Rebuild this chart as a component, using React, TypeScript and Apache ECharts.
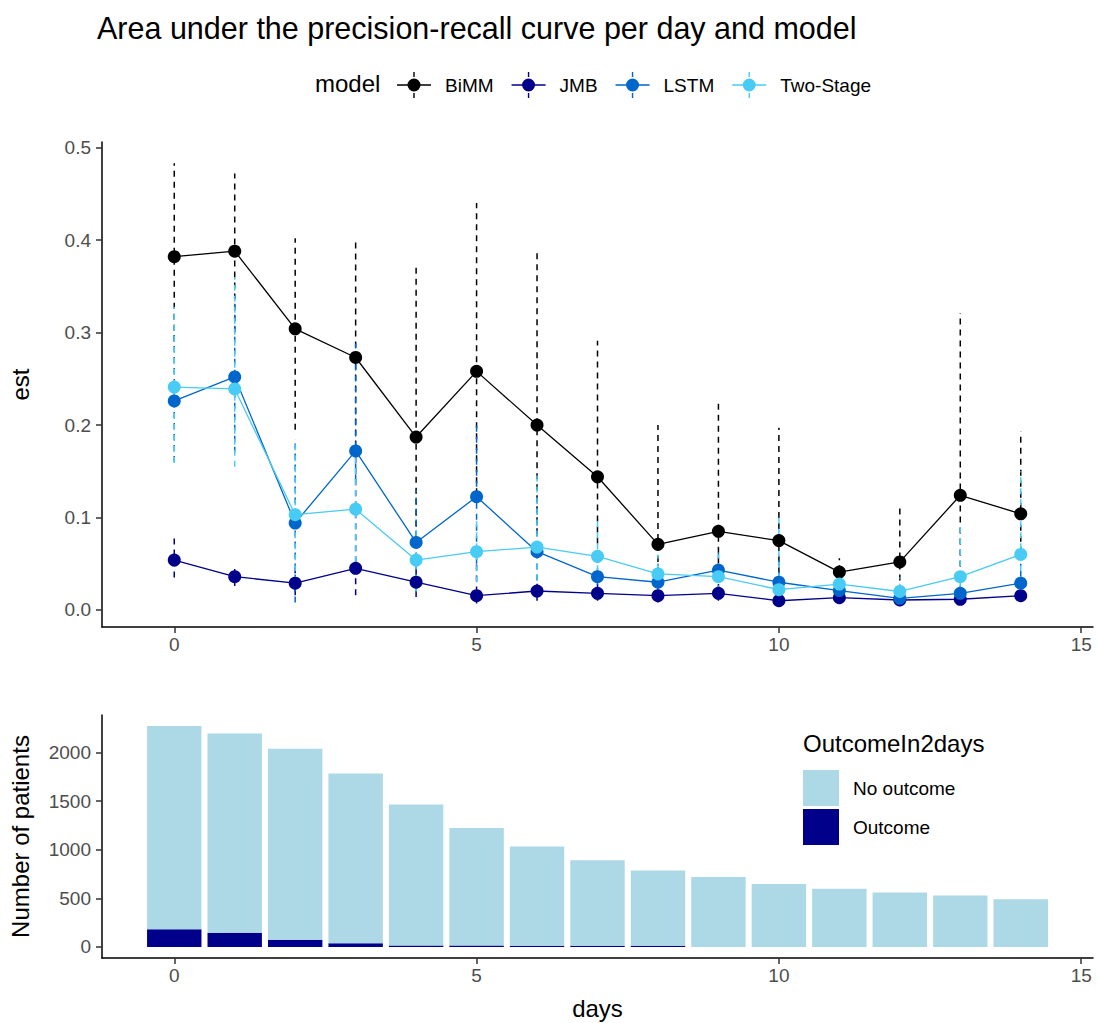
import React, { useEffect, useRef } from "react";
import * as echarts from "echarts";

const FONT = '"Liberation Sans", Arial, sans-serif';

const days = [0, 1, 2, 3, 4, 5, 6, 7, 8, 9, 10, 11, 12, 13, 14];
const models = ["BiMM", "JMB", "LSTM", "Two-Stage"];
const modelColors = ["#000000", "#00008B", "#0066CC", "#48CCF5"];

const bimmEst = [0.382, 0.388, 0.304, 0.273, 0.187, 0.258, 0.2, 0.144, 0.071, 0.085, 0.075, 0.041, 0.052, 0.124, 0.104];
const bimmUpper = [0.483, 0.472, 0.402, 0.398, 0.374, 0.44, 0.388, 0.291, 0.2, 0.223, 0.197, 0.056, 0.115, 0.321, 0.193];
const bimmLower = [0.29, 0.3, 0.195, 0.165, 0.078, 0.125, 0.082, 0.072, 0.04, 0.05, 0.04, 0.03, 0.02, 0.035, 0.062];

const jmbEst = [0.054, 0.036, 0.029, 0.045, 0.03, 0.0155, 0.0205, 0.018, 0.0155, 0.018, 0.01, 0.0133, 0.0108, 0.0116, 0.0155];
const jmbUpper = [0.08, 0.047, 0.045, 0.17, 0.05, 0.055, 0.035, 0.028, 0.025, 0.028, 0.018, 0.02, 0.017, 0.018, 0.022];
const jmbLower = [0.035, 0.026, 0.016, 0.016, 0.014, 0.007, 0.01, 0.01, 0.008, 0.01, 0.006, 0.008, 0.007, 0.007, 0.01];

const lstmEst = [0.226, 0.252, 0.094, 0.172, 0.073, 0.1225, 0.063, 0.036, 0.03, 0.043, 0.03, 0.021, 0.0126, 0.018, 0.029];
const lstmUpper = [0.3, 0.34, 0.18, 0.288, 0.13, 0.2, 0.12, 0.06, 0.05, 0.068, 0.06, 0.035, 0.025, 0.03, 0.05];
const lstmLower = [0.16, 0.17, 0.008, 0.14, 0.02, 0.05, 0.02, 0.015, 0.012, 0.02, 0.012, 0.01, 0.006, 0.008, 0.012];

const twoEst = [0.241, 0.239, 0.103, 0.109, 0.054, 0.063, 0.068, 0.058, 0.039, 0.036, 0.022, 0.028, 0.02, 0.036, 0.06];
const twoUpper = [0.328, 0.36, 0.185, 0.18, 0.09, 0.1, 0.15, 0.1, 0.06, 0.06, 0.105, 0.045, 0.035, 0.09, 0.15];
const twoLower = [0.159, 0.155, 0.03, 0.04, 0.02, 0.03, 0.02, 0.03, 0.02, 0.02, 0.01, 0.015, 0.01, 0.012, 0.03];

const noOutcomeCounts = [2093, 2051, 1966, 1747, 1452, 1210, 1020, 880, 774, 721, 649, 598, 561, 530, 492];
const outcomeCounts = [181, 147, 75, 38, 15, 14, 13, 12, 12, 0, 0, 0, 0, 0, 0];
const outcomeLabels = ["No outcome", "Outcome"];
const outcomeColors = ["#ADD8E6", "#00008B"];

const xTicks = [0, 5, 10, 15];
const estTicks = [0, 0.1, 0.2, 0.3, 0.4, 0.5];
const patientTicks = [0, 500, 1000, 1500, 2000];

const estSets = [bimmEst, jmbEst, lstmEst, twoEst];
const upperSets = [bimmUpper, jmbUpper, lstmUpper, twoUpper];
const lowerSets = [bimmLower, jmbLower, lstmLower, twoLower];

const legendIcon =
  "path://M0,12.3h34v1.4h-34z M10.5,13a6.5,6.5 0 1,1 13,0a6.5,6.5 0 1,1 -13,0z M16.3,0h1.4v5h-1.4z M16.3,21h1.4v5h-1.4z";

export default function App() {
  const ref = useRef<HTMLDivElement>(null);

  useEffect(() => {
    const chart = echarts.init(ref.current as HTMLDivElement, null, { renderer: "svg" });

    const errorSeries = models.map((m, k) => ({
      type: "custom",
      name: m + " CI",
      xAxisIndex: 0,
      yAxisIndex: 0,
      z: 2,
      silent: true,
      encode: { x: 0, y: [1, 2] },
      data: days.map((d, i) => [d, lowerSets[k][i], upperSets[k][i]]),
      renderItem: (params: any, api: any) => {
        const x = api.value(0);
        const p1 = api.coord([x, api.value(1)]);
        const p2 = api.coord([x, api.value(2)]);
        return {
          type: "line",
          shape: { x1: p1[0], y1: p1[1], x2: p2[0], y2: p2[1] },
          style: { stroke: modelColors[k], lineWidth: 1.5, lineDash: [6, 5] },
        };
      },
    }));

    const lineSeries = models.map((m, k) => ({
      type: "line",
      name: m,
      xAxisIndex: 0,
      yAxisIndex: 0,
      z: 3,
      data: days.map((d, i) => [d, estSets[k][i]]),
      symbol: "circle",
      symbolSize: 13,
      showSymbol: true,
      itemStyle: { color: modelColors[k] },
      lineStyle: { color: modelColors[k], width: 1.3 },
      silent: true,
    }));

    const barRender = (color: string) => (params: any, api: any) => {
      const x = api.value(0);
      const y0 = api.value(1);
      const y1 = api.value(2);
      if (y1 <= y0) return null;
      const a = api.coord([x - 0.45, y1]);
      const b = api.coord([x + 0.45, y0]);
      return {
        type: "rect",
        shape: { x: a[0], y: a[1], width: b[0] - a[0], height: b[1] - a[1] },
        style: { fill: color },
      };
    };

    const barSeries = [
      {
        type: "custom",
        name: outcomeLabels[1],
        xAxisIndex: 1,
        yAxisIndex: 1,
        itemStyle: { color: outcomeColors[1] },
        encode: { x: 0, y: [1, 2] },
        data: days.map((d, i) => [d, 0, outcomeCounts[i]]),
        renderItem: barRender(outcomeColors[1]),
        silent: true,
      },
      {
        type: "custom",
        name: outcomeLabels[0],
        xAxisIndex: 1,
        yAxisIndex: 1,
        itemStyle: { color: outcomeColors[0] },
        encode: { x: 0, y: [1, 2] },
        data: days.map((d, i) => [d, outcomeCounts[i], outcomeCounts[i] + noOutcomeCounts[i]]),
        renderItem: barRender(outcomeColors[0]),
        silent: true,
      },
    ];

    const axisLine = { show: true, onZero: false, lineStyle: { color: "#000000", width: 1.5 } };
    const tickStyle = { color: "#333333", width: 1.5 };
    const labelStyle = { fontSize: 19, color: "#4D4D4D", fontFamily: FONT };

    const option: any = {
      animation: false,
      backgroundColor: "#ffffff",
      textStyle: { fontFamily: FONT },
      title: {
        text: "Area under the precision-recall curve per day and model",
        left: 97,
        top: 12,
        padding: 0,
        textStyle: { fontSize: 30.5, fontWeight: "normal", color: "#000000", fontFamily: FONT },
      },
      legend: [
        {
          data: models.map((m) => ({ name: m, icon: legendIcon })),
          left: 397,
          top: 72,
          padding: 0,
          itemWidth: 34,
          itemHeight: 26,
          itemGap: 18,
          selectedMode: false,
          textStyle: { fontSize: 19, color: "#000000", fontFamily: FONT, padding: [0, 0, 0, 9] },
        },
        {
          data: outcomeLabels.map((n) => ({ name: n, icon: "rect" })),
          orient: "vertical",
          left: 803,
          top: 770,
          padding: 0,
          itemWidth: 36,
          itemHeight: 36,
          itemGap: 3,
          selectedMode: false,
          textStyle: { fontSize: 19, color: "#000000", fontFamily: FONT, padding: [0, 0, 0, 9] },
        },
      ],
      graphic: [
        {
          type: "text",
          left: 315,
          top: 71,
          style: { text: "model", fontSize: 24, fill: "#000000", fontFamily: FONT },
        },
        {
          type: "text",
          left: 803,
          top: 731,
          style: { text: "OutcomeIn2days", fontSize: 24, fill: "#000000", fontFamily: FONT },
        },
      ],
      grid: [
        { left: 100, top: 142, width: 993, height: 485, containLabel: false },
        { left: 100, top: 715, width: 993, height: 243, containLabel: false },
      ],
      xAxis: [
        {
          gridIndex: 0,
          type: "value",
          min: -1.195,
          max: 15.195,
          splitLine: { show: false },
          axisLine,
          axisTick: { show: true, customValues: xTicks, length: 6, lineStyle: tickStyle },
          axisLabel: { show: true, customValues: xTicks, margin: 8, ...labelStyle },
        },
        {
          gridIndex: 1,
          type: "value",
          min: -1.195,
          max: 15.195,
          name: "days",
          nameLocation: "middle",
          nameGap: 38,
          nameTextStyle: { fontSize: 24, color: "#000000", fontFamily: FONT },
          splitLine: { show: false },
          axisLine,
          axisTick: { show: true, customValues: xTicks, length: 6, lineStyle: tickStyle },
          axisLabel: { show: true, customValues: xTicks, margin: 8, ...labelStyle },
        },
      ],
      yAxis: [
        {
          gridIndex: 0,
          type: "value",
          min: -0.0184,
          max: 0.506,
          name: "est",
          nameLocation: "middle",
          nameGap: 70,
          nameTextStyle: { fontSize: 24, color: "#000000", fontFamily: FONT },
          splitLine: { show: false },
          axisLine,
          axisTick: { show: true, customValues: estTicks, length: 6, lineStyle: tickStyle },
          axisLabel: {
            show: true,
            customValues: estTicks,
            margin: 11,
            formatter: (v: number) => v.toFixed(1),
            ...labelStyle,
          },
        },
        {
          gridIndex: 1,
          type: "value",
          min: -113.7,
          max: 2387.7,
          name: "Number of patients",
          nameLocation: "middle",
          nameGap: 70,
          nameTextStyle: { fontSize: 24, color: "#000000", fontFamily: FONT },
          splitLine: { show: false },
          axisLine,
          axisTick: { show: true, customValues: patientTicks, length: 6, lineStyle: tickStyle },
          axisLabel: {
            show: true,
            customValues: patientTicks,
            margin: 11,
            formatter: (v: number) => String(Math.round(v)),
            ...labelStyle,
          },
        },
      ],
      series: [...errorSeries, ...lineSeries, ...barSeries],
    };

    chart.setOption(option);
    return () => chart.dispose();
  }, []);

  return (
    <div
      ref={ref}
      style={{ position: "absolute", left: 0, top: 0, width: 1097, height: 1023, background: "#ffffff" }}
    />
  );
}
